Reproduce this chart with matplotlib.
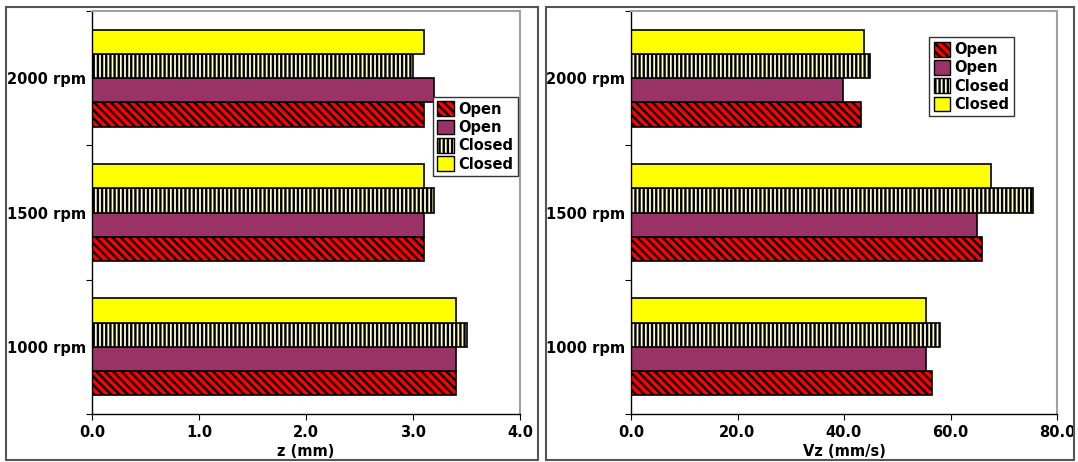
import matplotlib
matplotlib.use("Agg")
import matplotlib.pyplot as plt
from matplotlib.patches import Rectangle, Patch
import numpy as np

plt.rcParams['font.family'] = ['DejaVu Sans']
plt.rcParams['font.weight'] = 'bold'
plt.rcParams['hatch.linewidth'] = 1.7

# Data
speeds = ["1000 rpm", "1500 rpm", "2000 rpm"]
series_labels = ["Open", "Open", "Closed", "Closed"]

z_open_a = [3.4, 3.1, 3.1]
z_open_b = [3.4, 3.1, 3.2]
z_closed_a = [3.5, 3.2, 3.0]
z_closed_b = [3.4, 3.1, 3.1]

vz_open_a = [56.5, 65.9, 43.1]
vz_open_b = [55.4, 64.9, 39.8]
vz_closed_a = [58.0, 75.4, 44.9]
vz_closed_b = [55.4, 67.6, 43.8]

x_ticks_z = [0.0, 1.0, 2.0, 3.0, 4.0]
x_ticks_vz = [0.0, 20.0, 40.0, 60.0, 80.0]

styles = [
    dict(facecolor="#FF0000", hatch="\\\\\\\\"),
    dict(facecolor="#993366", hatch=None),
    dict(facecolor="#FFFFCC", hatch="||||"),
    dict(facecolor="#FFFF00", hatch=None),
]

FS = 10.5
W, H = 1078, 462
fig = plt.figure(figsize=(W / 100, H / 100), dpi=100)

# Panel frames
for x0, x1 in [(6, 538), (546, 1074)]:
    fig.add_artist(Rectangle((x0 / W, 2 / H), (x1 - x0) / W, (455 - 2) / H,
                             transform=fig.transFigure, fill=False,
                             edgecolor="#555555", linewidth=1.5))

ax1 = fig.add_axes([92 / W, 48 / H, 428 / W, 403 / H])
ax2 = fig.add_axes([631 / W, 48 / H, 426 / W, 403 / H])

bar_h = 0.18
offsets = [-0.27, -0.09, 0.09, 0.27]
ypos = np.arange(len(speeds))


def draw(ax, series, xticks, xlabel, legend_anchor):
    for vals, off, st, lab in zip(series, offsets, styles, series_labels):
        ax.barh(ypos + off, vals, height=bar_h, facecolor=st["facecolor"],
                hatch=st["hatch"], edgecolor="black", linewidth=1.2, label=lab)
    ax.set_xlim(xticks[0], xticks[-1])
    ax.set_ylim(-0.5, 2.5)
    ax.set_xticks(xticks)
    ax.set_xticklabels([f"{t:.1f}" for t in xticks], fontsize=FS, fontweight="bold")
    ax.set_yticks([-0.5, 0.5, 1.5, 2.5])
    ax.set_yticklabels([])
    ax.set_yticks(ypos, minor=True)
    ax.set_yticklabels(speeds, minor=True, fontsize=FS, fontweight="bold")
    ax.tick_params(axis="y", which="minor", length=0, pad=4)
    ax.tick_params(axis="y", which="major", length=4, direction="out")
    ax.tick_params(axis="x", length=4, direction="out", pad=4)
    ax.set_xlabel(xlabel, fontsize=FS, fontweight="bold", labelpad=3)
    for s in ["top", "right"]:
        ax.spines[s].set_color("#A0A0A0")
        ax.spines[s].set_linewidth(1.5)
    for s in ["left", "bottom"]:
        ax.spines[s].set_color("black")
        ax.spines[s].set_linewidth(1.0)
    handles = [Patch(facecolor=st["facecolor"], hatch=st["hatch"], edgecolor="black",
                     label=lab) for st, lab in zip(styles, series_labels)]
    leg = ax.legend(handles=handles, loc="upper left", bbox_to_anchor=legend_anchor,
                    prop={"weight": "bold", "size": FS},
                    handlelength=1.1, handleheight=1.2, handletextpad=0.35,
                    labelspacing=0.2, borderpad=0.3, borderaxespad=0,
                    fancybox=False, framealpha=1, edgecolor="#333333")
    leg.get_frame().set_linewidth(1.0)


draw(ax1, [z_open_a, z_open_b, z_closed_a, z_closed_b], x_ticks_z, "z (mm)",
     (0.797, 0.787))
draw(ax2, [vz_open_a, vz_open_b, vz_closed_a, vz_closed_b], x_ticks_vz, "Vz (mm/s)",
     (0.70, 0.935))

fig.savefig("out.png", dpi=100)
